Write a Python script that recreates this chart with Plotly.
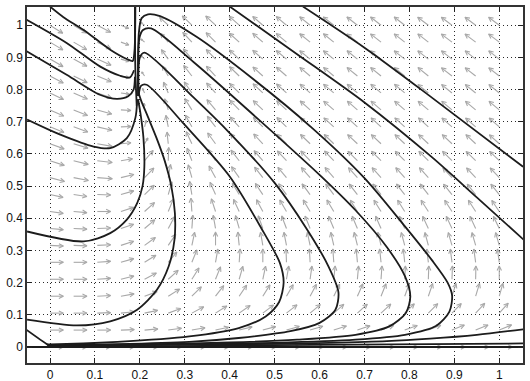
import math
import plotly.graph_objects as go

# ---------------- data ----------------
tick_vals = [0, 0.1, 0.2, 0.3, 0.4, 0.5, 0.6, 0.7, 0.8, 0.9, 1.0]
tick_text = ["0", "0.1", "0.2", "0.3", "0.4", "0.5", "0.6", "0.7", "0.8", "0.9", "1"]
x_range = [-0.0512, 1.0528]
y_range = [-0.0497, 1.0566]

# quiver sample grid (20 x 20)
grid_x = [0, 0.0526, 0.1053, 0.1579, 0.2105, 0.2632, 0.3158, 0.3684, 0.4211, 0.4737,
          0.5263, 0.5789, 0.6316, 0.6842, 0.7368, 0.7895, 0.8421, 0.8947, 0.9474, 1.0]
grid_y = list(grid_x)

# arrow direction (degrees, 0 = right, 90 = up), rows = grid_y, cols = grid_x
arrow_angle = [
    [0]*20,
    [0, 0, 0, 2, 5, 8, 10, 12, 14, 15, 16, 17, 18, 19, 20, 20, 21, 22, 22, 23],
    [0, 0, 2, 6, 12, 20, 28, 32, 35, 37, 38, 40, 41, 42, 43, 44, 45, 46, 47, 48],
    [0, 0, 3, 10, 20, 32, 45, 52, 56, 58, 60, 62, 64, 66, 68, 70, 71, 72, 73, 74],
    [0, 0, 4, 14, 28, 42, 58, 68, 74, 78, 80, 82, 84, 85, 86, 87, 88, 88, 89, 90],
    [0, 0, 4, 16, 32, 50, 68, 80, 86, 90, 92, 93, 94, 95, 96, 96, 97, 97, 98, 98],
    [-3, -2, 3, 18, 36, 56, 78, 90, 96, 100, 101, 102, 103, 104, 104, 105, 105, 106, 106, 106],
    [-5, -3, 2, 18, 40, 62, 86, 100, 106, 110, 111, 112, 113, 113, 114, 114, 115, 115, 115, 116],
    [-8, -5, 0, 18, 42, 68, 94, 108, 115, 118, 120, 121, 121, 122, 122, 122, 123, 123, 123, 124],
    [-12, -8, -2, 16, 44, 74, 100, 114, 121, 124, 126, 127, 127, 128, 128, 128, 128, 129, 129, 129],
    [-15, -11, -4, 14, 46, 80, 106, 119, 125, 128, 130, 131, 131, 132, 132, 132, 132, 133, 133, 133],
    [-18, -14, -7, 10, 50, 88, 111, 123, 128, 131, 133, 134, 134, 135, 135, 135, 135, 135, 136, 136],
    [-20, -17, -10, 6, 60, 96, 115, 126, 131, 133, 135, 136, 136, 137, 137, 137, 137, 137, 137, 138],
    [-22, -20, -13, 2, 75, 102, 119, 128, 133, 135, 136, 137, 138, 138, 138, 138, 138, 139, 139, 139],
    [-24, -22, -16, -3, 95, 108, 122, 130, 134, 136, 137, 138, 139, 139, 139, 139, 140, 140, 140, 140],
    [-26, -24, -19, -8, 115, 114, 125, 132, 135, 137, 138, 139, 140, 140, 140, 140, 141, 141, 141, 141],
    [-28, -26, -22, -12, 125, 120, 128, 133, 136, 138, 139, 140, 140, 141, 141, 141, 141, 142, 142, 142],
    [-30, -28, -24, -16, 135, 126, 130, 134, 137, 139, 140, 141, 141, 141, 142, 142, 142, 142, 142, 142],
    [-31, -30, -26, -20, 140, 132, 133, 135, 138, 139, 140, 141, 141, 142, 142, 142, 142, 143, 143, 143],
    [-32, -31, -28, -23, 145, 138, 136, 137, 138, 139, 140, 141, 142, 142, 142, 142, 143, 143, 143, 143],
]
# relative arrow magnitude (digit / 9)
arrow_mag = [
    "88888888888888888888",
    "88888888888888888888",
    "88888888888888888888",
    "88888888888888888888",
    "88888888888888888888",
    "88888888888888888888",
    "88888888888888888888",
    "88888888888888888888",
    "88888888888888888888",
    "88888888888888888888",
    "99988888888888888888",
    "99978888888888888888",
    "99964788888888888888",
    "99964788888888888888",
    "99964788888888888888",
    "99953788888888888888",
    "99953788888888888888",
    "99953788888888888888",
    "99953788888888888888",
    "99953788888888888888",
]

# trajectories (x list, y list)
traj_L1_x = [0.0, 0.03, 0.074, 0.134, 0.171, 0.184, 0.188, 0.19]
traj_L1_y = [1.058, 1.025, 0.986, 0.924, 0.895, 0.889, 0.92, 1.058]
traj_L2_x = [-0.052, 0.037, 0.111, 0.156, 0.178, 0.187]
traj_L2_y = [1.017, 0.945, 0.872, 0.843, 0.838, 0.86]
traj_L3_x = [-0.052, 0.037, 0.111, 0.149, 0.174, 0.186, 0.189]
traj_L3_y = [0.919, 0.846, 0.784, 0.771, 0.779, 0.80, 0.84]
traj_L4_x = [-0.051, 0.023, 0.097, 0.134, 0.171, 0.19, 0.194]
traj_L4_y = [0.707, 0.66, 0.623, 0.618, 0.649, 0.712, 0.77]
traj_L5_x = [-0.051, 0.075, 0.134, 0.171, 0.194, 0.206, 0.21, 0.208, 0.202, 0.196]
traj_L5_y = [0.359, 0.328, 0.354, 0.396, 0.447, 0.5, 0.56, 0.65, 0.72, 0.77]
traj_V_x = [0.193, 0.19, 0.189]
traj_V_y = [0.75, 0.86, 1.058]
traj_C1_x = [-0.051, 0.06, 0.134, 0.194, 0.238, 0.264, 0.277, 0.278, 0.27, 0.255, 0.237, 0.218, 0.203, 0.197]
traj_C1_y = [0.085, 0.067, 0.08, 0.116, 0.178, 0.25, 0.333, 0.416, 0.5, 0.58, 0.65, 0.715, 0.765, 0.79]
traj_C2_x = [0.197, 0.203, 0.215, 0.3, 0.4, 0.47, 0.512, 0.52, 0.51, 0.48, 0.42, 0.31, 0.15, 0.0, -0.006]
traj_C2_y = [0.78, 0.812, 0.815, 0.69, 0.53, 0.37, 0.26, 0.2, 0.14, 0.095, 0.059, 0.033, 0.016, 0.008, 0.008]
traj_C3_x = [0.197, 0.2, 0.21, 0.32, 0.4, 0.5, 0.57, 0.62, 0.642, 0.635, 0.6, 0.535, 0.42, 0.31, 0.15, 0.0]
traj_C3_y = [0.78, 0.9, 0.915, 0.775, 0.665, 0.51, 0.37, 0.25, 0.17, 0.115, 0.075, 0.049, 0.028, 0.016, 0.009, 0.006]
traj_C4_x = [0.197, 0.199, 0.207, 0.225, 0.32, 0.45, 0.6, 0.68, 0.75, 0.79, 0.802, 0.792, 0.755, 0.68,
             0.55, 0.4, 0.2, 0.0]
traj_C4_y = [0.78, 0.96, 0.985, 0.99, 0.885, 0.725, 0.535, 0.425, 0.31, 0.22, 0.157, 0.106, 0.064, 0.038,
             0.023, 0.014, 0.008, 0.005]
traj_C5_x = [0.196, 0.198, 0.204, 0.218, 0.245, 0.327, 0.45, 0.58, 0.70, 0.79, 0.85, 0.885, 0.895,
             0.889, 0.86, 0.79, 0.68, 0.5, 0.3, 0.0]
traj_C5_y = [0.78, 0.98, 1.022, 1.034, 1.028, 0.963, 0.835, 0.685, 0.525, 0.375, 0.27, 0.2, 0.16,
             0.11, 0.066, 0.038, 0.023, 0.013, 0.008, 0.004]
traj_F1_x = [-0.006, 0.3, 0.5, 0.624, 0.75, 0.846, 0.95, 1.053]
traj_F1_y = [0.004, 0.007, 0.01, 0.013, 0.018, 0.026, 0.038, 0.055]
traj_F2_x = [-0.052, -0.007, 0.0, 0.5, 1.053]
traj_F2_y = [0.053, 0.009, 0.004, 0.006, 0.011]
traj_Y0_x = [-0.052, 1.053]
traj_Y0_y = [0.0, 0.0]
traj_A_x = [0.563, 0.7, 0.85, 1.053]
traj_A_y = [1.058, 0.93, 0.775, 0.56]
traj_B_x = [0.40, 0.55, 0.7, 0.85, 0.95, 1.057]
traj_B_y = [1.058, 0.91, 0.76, 0.59, 0.465, 0.33]

trajectories = [
    (traj_L1_x, traj_L1_y), (traj_L2_x, traj_L2_y), (traj_L3_x, traj_L3_y),
    (traj_L4_x, traj_L4_y), (traj_L5_x, traj_L5_y), (traj_V_x, traj_V_y),
    (traj_C1_x, traj_C1_y), (traj_C2_x, traj_C2_y), (traj_C3_x, traj_C3_y),
    (traj_C4_x, traj_C4_y), (traj_C5_x, traj_C5_y), (traj_F1_x, traj_F1_y),
    (traj_F2_x, traj_F2_y), (traj_Y0_x, traj_Y0_y), (traj_A_x, traj_A_y),
    (traj_B_x, traj_B_y),
]

# ---------------- layout geometry ----------------
W, H = 530, 381
M_L, M_R, M_T, M_B = 27, 7, 7, 18
px_x = (W - M_L - M_R) / (x_range[1] - x_range[0])
px_y = (H - M_T - M_B) / (y_range[1] - y_range[0])
ARROW_PX = 15.0
HEAD_PX = 5.0
HEAD_ANG = math.radians(26)

ax, ay = [], []
for j, yv in enumerate(grid_y):
    for i, xv in enumerate(grid_x):
        a = math.radians(arrow_angle[j][i])
        L = ARROW_PX * int(arrow_mag[j][i]) / 9.0
        tx = xv + L * math.cos(a) / px_x
        ty = yv + L * math.sin(a) / px_y
        hl = HEAD_PX * min(1.0, L / 12.0)
        h1 = a + math.pi + HEAD_ANG
        h2 = a + math.pi - HEAD_ANG
        ax += [xv, tx, None,
               tx + hl * math.cos(h1) / px_x, tx, tx + hl * math.cos(h2) / px_x, None]
        ay += [yv, ty, None,
               ty + hl * math.sin(h1) / px_y, ty, ty + hl * math.sin(h2) / px_y, None]

fig = go.Figure()
fig.add_trace(go.Scatter(x=ax, y=ay, mode="lines",
                         line=dict(color="rgb(168,168,168)", width=1.1),
                         hoverinfo="skip", showlegend=False))
for tx_, ty_ in trajectories:
    fig.add_trace(go.Scatter(x=tx_, y=ty_, mode="lines",
                             line=dict(color="#1c1c1c", width=1.8, shape="spline", smoothing=0.8),
                             hoverinfo="skip", showlegend=False))

axis_common = dict(
    tickvals=tick_vals, ticktext=tick_text, ticks="inside", ticklen=5,
    tickcolor="#222", tickwidth=1, showline=True, linecolor="#333", linewidth=1.5,
    mirror="allticks", showgrid=True, gridcolor="#2a2a2a", gridwidth=1, griddash="1px,3px",
    zeroline=False, automargin=False,
    tickfont=dict(family="Liberation Sans, Arial", size=12, color="#111"),
)
fig.update_xaxes(range=x_range, **axis_common)
fig.update_yaxes(range=y_range, **axis_common)
fig.update_layout(width=W, height=H, margin=dict(l=M_L, r=M_R, t=M_T, b=M_B, autoexpand=False),
                  plot_bgcolor="white", paper_bgcolor="white", showlegend=False)
fig.write_html("out.html", config={"displayModeBar": False},
               post_script="document.body.style.margin='0';document.body.style.overflow='hidden';")
